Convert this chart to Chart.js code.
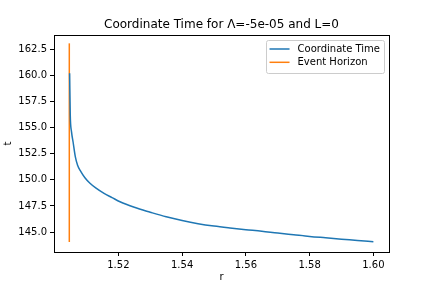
<!DOCTYPE html>
<html>
<head>
<meta charset="utf-8">
<script src="https://cdn.jsdelivr.net/npm/chart.js@4.4.0/dist/chart.umd.min.js"></script>
<style>
  html, body { margin: 0; padding: 0; background: #fff; }
  canvas { display: block; }
</style>
</head>
<body>
<canvas id="chart" width="432" height="288"></canvas>
<script>
'use strict';

// coordinate time curve
const rValues = [1.5047, 1.5049, 1.5053, 1.5058, 1.5065, 1.5072, 1.508, 1.5095, 1.511, 1.513,
  1.5155, 1.518, 1.5205, 1.525, 1.53, 1.535, 1.54, 1.545, 1.55, 1.555,
  1.56, 1.565, 1.57, 1.575, 1.58, 1.585, 1.59, 1.595, 1.60];
const tValues = [160.2, 156.2, 154.6, 153.6, 152.2, 151.4, 150.9, 150.2, 149.7, 149.2,
  148.7, 148.3, 147.9, 147.37, 146.9, 146.46, 146.1, 145.8, 145.57, 145.39,
  145.23, 145.08, 144.9, 144.74, 144.58, 144.45, 144.32, 144.2, 144.07];

// event horizon
const horizonR = [1.5046, 1.5046];
const horizonT = [144.05, 163.07];

const xTicks = [1.52, 1.54, 1.56, 1.58, 1.60];
const yTicks = [145, 147.5, 150, 152.5, 155, 157.5, 160, 162.5];

const titleText = 'Coordinate Time for Λ=-5e-05 and L=0';
const font = 'DejaVu Sans';

const toPoints = function(xs, ys) {
  return xs.map((x, i) => ({ x: x, y: ys[i] }));
};

// title centred over the plot area, like matplotlib
const titlePlugin = {
  id: 'axTitle',
  afterDraw(chart) {
    const a = chart.chartArea;
    const ctx = chart.ctx;
    ctx.save();
    ctx.font = '12px "' + font + '"';
    ctx.fillStyle = '#000';
    ctx.textAlign = 'center';
    ctx.textBaseline = 'middle';
    ctx.fillText(titleText, (a.left + a.right) / 2, 25);
    ctx.restore();
  }
};

// top and right spines
const framePlugin = {
  id: 'frame',
  afterDatasetsDraw(chart) {
    const a = chart.chartArea;
    const ctx = chart.ctx;
    ctx.save();
    ctx.strokeStyle = '#000';
    ctx.lineWidth = 1;
    ctx.strokeRect(Math.round(a.left) + 0.5, Math.round(a.top) + 0.5,
      Math.round(a.right - a.left), Math.round(a.bottom - a.top));
    ctx.restore();
  }
};

// matplotlib style legend in the upper right corner
const legendPlugin = {
  id: 'mplLegend',
  afterDraw(chart) {
    const a = chart.chartArea;
    const ctx = chart.ctx;
    const sets = chart.data.datasets;
    ctx.save();
    ctx.font = '10px "' + font + '"';
    let textW = 0;
    sets.forEach(ds => { textW = Math.max(textW, ctx.measureText(ds.label).width); });
    const w = 4 + 20 + 8 + textW + 4;
    const rowH = 13.3;
    const h = 6 + rowH * sets.length;
    const right = a.right - 5;
    const left = right - w;
    const top = a.top + 5;

    ctx.fillStyle = 'rgba(255,255,255,0.8)';
    ctx.strokeStyle = '#cccccc';
    ctx.lineWidth = 1;
    ctx.beginPath();
    ctx.roundRect(Math.round(left) + 0.5, Math.round(top) + 0.5, Math.round(w), Math.round(h), 2);
    ctx.fill();
    ctx.stroke();

    ctx.textBaseline = 'middle';
    sets.forEach((ds, i) => {
      const y = top + 9 + i * rowH;
      ctx.strokeStyle = ds.borderColor;
      ctx.lineWidth = 1.5;
      ctx.beginPath();
      ctx.moveTo(left + 4, y);
      ctx.lineTo(left + 24, y);
      ctx.stroke();
      ctx.fillStyle = '#000';
      ctx.fillText(ds.label, left + 32, y);
    });
    ctx.restore();
  }
};

const ctx = document.getElementById('chart').getContext('2d');

const myChart = new Chart(ctx, {
  type: 'line',
  data: {
    datasets: [{
      label: 'Coordinate Time',
      data: toPoints(rValues, tValues),
      borderColor: '#1f77b4',
      borderWidth: 1.5,
      pointRadius: 0,
      fill: false,
      cubicInterpolationMode: 'monotone'
    }, {
      label: 'Event Horizon',
      data: toPoints(horizonR, horizonT),
      borderColor: '#ff7f0e',
      borderWidth: 1.5,
      pointRadius: 0,
      fill: false,
      tension: 0
    }]
  },
  options: {
    responsive: false,
    animation: false,
    devicePixelRatio: 1,
    layout: { padding: { left: 0, right: 43, top: 35, bottom: 0 } },
    plugins: {
      legend: { display: false },
      tooltip: { enabled: false },
      title: { display: false }
    },
    scales: {
      x: {
        type: 'linear',
        position: 'bottom',
        min: 1.4998,
        max: 1.6049,
        afterBuildTicks: scale => { scale.ticks = xTicks.map(v => ({ value: v })); },
        afterFit: scale => { scale.height = 36; },
        ticks: {
          color: '#000',
          font: { family: font, size: 10 },
          padding: 3,
          maxRotation: 0,
          autoSkip: false,
          callback: v => v.toFixed(2)
        },
        grid: { drawOnChartArea: false, drawTicks: true, tickLength: 4, color: '#000' },
        border: { color: '#000' },
        title: {
          display: true,
          text: 'r',
          color: '#000',
          font: { family: font, size: 10 },
          padding: { top: 0, bottom: 4.7 }
        }
      },
      y: {
        type: 'linear',
        position: 'left',
        min: 143.09,
        max: 163.87,
        afterBuildTicks: scale => { scale.ticks = yTicks.map(v => ({ value: v })); },
        afterFit: scale => { scale.width = 54; },
        ticks: {
          color: '#000',
          font: { family: font, size: 10 },
          padding: 3,
          autoSkip: false,
          callback: v => v.toFixed(1)
        },
        grid: { drawOnChartArea: false, drawTicks: true, tickLength: 4, color: '#000' },
        border: { color: '#000' },
        title: {
          display: true,
          text: 't',
          color: '#000',
          font: { family: font, size: 10 },
          padding: { top: 2, bottom: 0 }
        }
      }
    }
  },
  plugins: [framePlugin, legendPlugin, titlePlugin]
});
</script>
</body>
</html>
